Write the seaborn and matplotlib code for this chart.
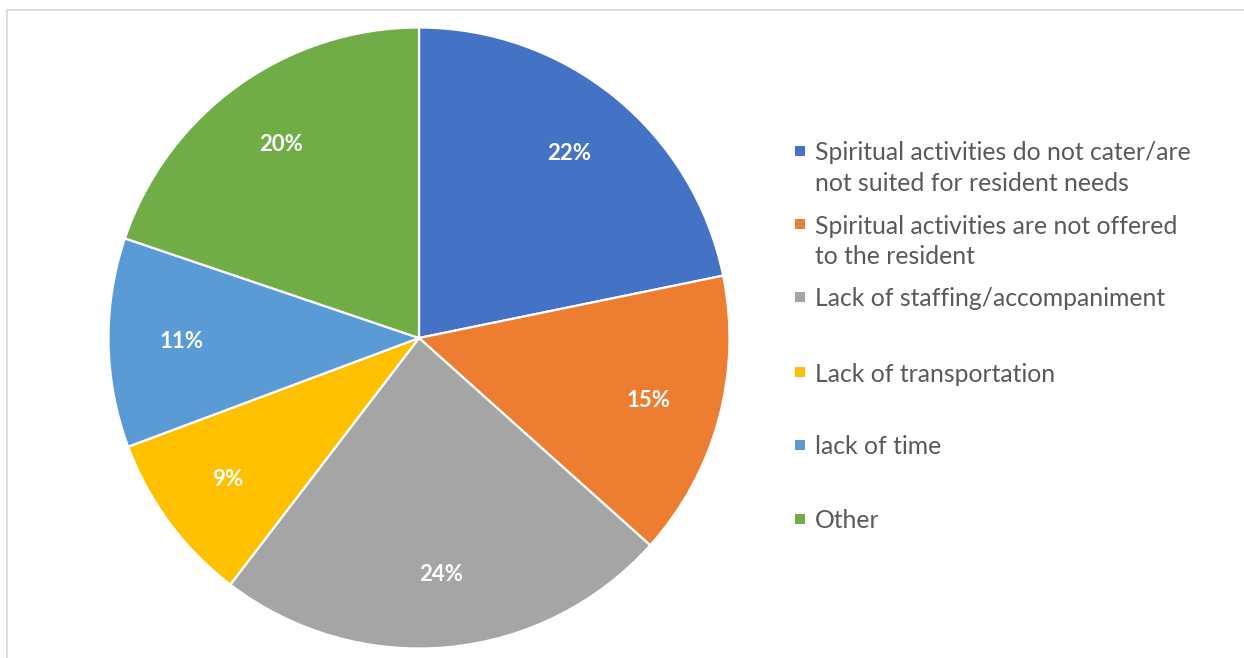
import matplotlib
matplotlib.use("Agg")
import matplotlib.pyplot as plt
from matplotlib.patches import Rectangle
import seaborn as sns

# Reasons residents do not take part in spiritual activities
categories = [
    "Spiritual activities do not cater/are\nnot suited for resident needs",
    "Spiritual activities are not offered\nto the resident",
    "Lack of staffing/accompaniment",
    "Lack of transportation",
    "lack of time",
    "Other",
]
shares = [22, 15, 24, 9, 11, 20]
colors = ["#4472C4", "#ED7D31", "#A5A5A5", "#FFC000", "#5B9BD5", "#70AD47"]

sns.set_theme(style="white")
plt.rcParams["font.family"] = ["Lato", "DejaVu Sans"]
palette = sns.color_palette(colors)

W, H = 1244, 658
fig = plt.figure(figsize=(W / 100, H / 100), dpi=100)
fig.patch.set_facecolor("white")

# Pie axes: centre (419, 338) px, radius ~310 px
cx, cy, r = 419, 338, 310.5
ax = fig.add_axes([(cx - r) / W, (H - cy - r) / H, 2 * r / W, 2 * r / H])

label_iter = iter(shares)
wedges, _, autotexts = ax.pie(
    shares,
    colors=palette,
    startangle=90,
    counterclock=False,
    radius=1,
    autopct=lambda p: f"{next(label_iter)}%",
    pctdistance=0.765,
    wedgeprops=dict(edgecolor="white", linewidth=1.6),
    textprops=dict(color="white", fontsize=16, fontweight="bold"),
)
ax.set_xlim(-1, 1)
ax.set_ylim(-1, 1)
ax.set_aspect("equal")
ax.axis("off")

# Legend drawn entry by entry so each marker sits on the first text line
text_color = "#595959"
entry_y = [151, 224, 297, 372, 445, 519]
line_gap = 31
for label, color, y in zip(categories, palette, entry_y):
    sq = 10
    fig.add_artist(Rectangle((795 / W, (H - y - sq / 2) / H), sq / W, sq / H,
                             transform=fig.transFigure, facecolor=color,
                             edgecolor="none"))
    for k, line in enumerate(label.split("\n")):
        fig.text(815 / W, (H - y - k * line_gap) / H, line, ha="left",
                 va="center_baseline", fontsize=17.8, color=text_color)

# Thin frame around the chart area
fig.add_artist(Rectangle((7 / W, -0.1), 1.2, (H - 10) / H + 0.1,
                         transform=fig.transFigure, facecolor="none",
                         edgecolor="#D9D9D9", linewidth=1.2))

fig.savefig("out.png", dpi=100, facecolor="white")
